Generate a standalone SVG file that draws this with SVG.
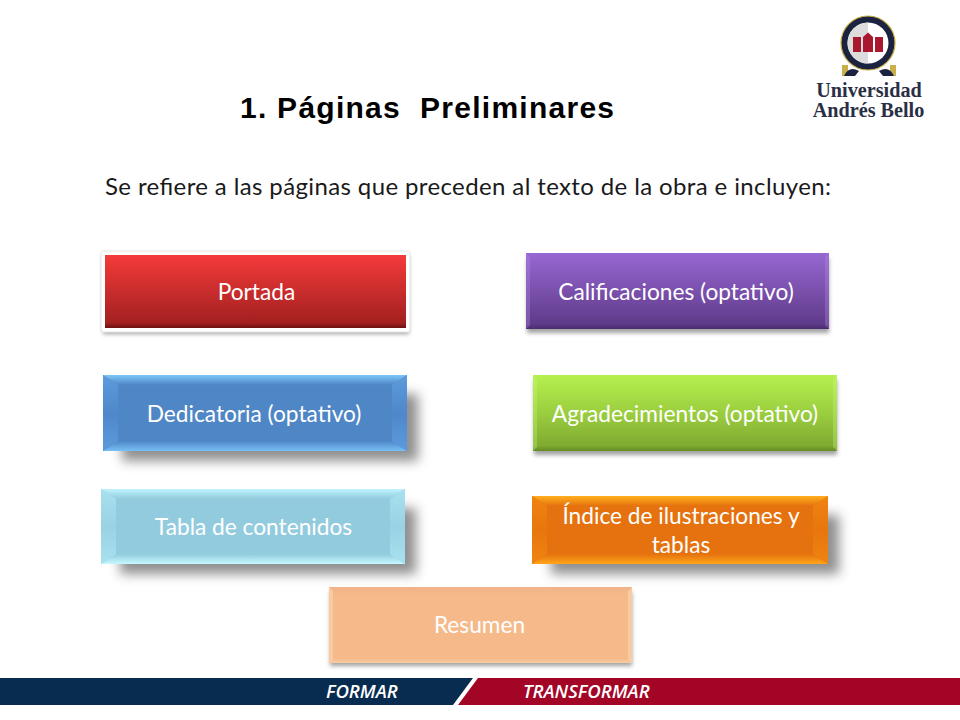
<svg xmlns="http://www.w3.org/2000/svg" width="960" height="720" viewBox="0 0 960 720">
<style>
.t{font-family:"Lato","Open Sans","Liberation Sans",sans-serif;font-size:22.700px;fill:#fff;text-anchor:middle}
.foot{font-family:"Open Sans","Liberation Sans",sans-serif;font-size:18.600px;font-weight:600;font-style:italic;fill:#fff}
.logo{font-family:"Liberation Serif","DejaVu Serif",serif;font-size:20.200px;font-weight:700;fill:#2a2f45;text-anchor:middle}
.sh{fill:#444;opacity:.6;filter:url(#blur)}
.shs{fill:#555;opacity:.55;filter:url(#blurS)}
</style>
<defs>
<filter id="blur" x="-15%" y="-40%" width="130%" height="180%"><feGaussianBlur stdDeviation="6"/></filter>
<filter id="blurS" x="-5%" y="-15%" width="110%" height="130%"><feGaussianBlur stdDeviation="2"/></filter>
<linearGradient id="red" x1="0" y1="0" x2="0" y2="1"><stop offset="0" stop-color="#f53a3a"/><stop offset=".5" stop-color="#c92c2c"/><stop offset=".93" stop-color="#a32020"/><stop offset="1" stop-color="#6d1010"/></linearGradient>
<linearGradient id="purple" x1="0" y1="0" x2="0" y2="1"><stop offset="0" stop-color="#9668d2"/><stop offset=".5" stop-color="#7a50ac"/><stop offset=".93" stop-color="#5f3b8b"/><stop offset="1" stop-color="#4a2d6e"/></linearGradient>
<linearGradient id="green" x1="0" y1="0" x2="0" y2="1"><stop offset="0" stop-color="#b5f04e"/><stop offset=".5" stop-color="#9bce3f"/><stop offset=".93" stop-color="#7fab31"/><stop offset="1" stop-color="#658a24"/></linearGradient>
<linearGradient id="blueT" x1="0" y1="0" x2="0" y2="1"><stop offset="0" stop-color="#7cc8fa"/><stop offset="1" stop-color="#4f86c6"/></linearGradient>
<linearGradient id="blueB" x1="0" y1="0" x2="0" y2="1"><stop offset="0" stop-color="#4f86c6"/><stop offset="1" stop-color="#77c0f6"/></linearGradient>
<linearGradient id="cyanT" x1="0" y1="0" x2="0" y2="1"><stop offset="0" stop-color="#bff4fd"/><stop offset="1" stop-color="#93cbde"/></linearGradient>
<linearGradient id="cyanB" x1="0" y1="0" x2="0" y2="1"><stop offset="0" stop-color="#93cbde"/><stop offset="1" stop-color="#c6f8ff"/></linearGradient>
<linearGradient id="orT" x1="0" y1="0" x2="0" y2="1"><stop offset="0" stop-color="#ffb01e"/><stop offset="1" stop-color="#e5720e"/></linearGradient>
<linearGradient id="orB" x1="0" y1="0" x2="0" y2="1"><stop offset="0" stop-color="#e5720e"/><stop offset="1" stop-color="#ffa51a"/></linearGradient>
<linearGradient id="peach" x1="0" y1="0" x2="0" y2="1"><stop offset="0" stop-color="#eeb387"/><stop offset=".1" stop-color="#f5b98a"/><stop offset=".94" stop-color="#f5b98a"/><stop offset="1" stop-color="#f9cda4"/></linearGradient>
<linearGradient id="sideBlue" x1="0" y1="0" x2="0" y2="1"><stop offset="0" stop-color="#5c9bdc"/><stop offset=".5" stop-color="#4f88ca"/><stop offset="1" stop-color="#5c9bdc"/></linearGradient>
<linearGradient id="sideCyan" x1="0" y1="0" x2="0" y2="1"><stop offset="0" stop-color="#a8e2f0"/><stop offset=".5" stop-color="#98d2e4"/><stop offset="1" stop-color="#a8e2f0"/></linearGradient>
<linearGradient id="sideOr" x1="0" y1="0" x2="0" y2="1"><stop offset="0" stop-color="#f08412"/><stop offset=".5" stop-color="#e8760e"/><stop offset="1" stop-color="#f08412"/></linearGradient>
</defs>
<rect width="960" height="720" fill="#fff"/>
<g id="logo">
<rect x="842" y="65" width="6" height="11" fill="#c9b04a"/><rect x="890" y="65" width="6" height="11" fill="#c9b04a"/>
<path d="M844 76q5-11 15-5l-4 5zM894 76q-5-11-15-5l4 5z" fill="#1b2340"/>
<circle cx="868" cy="43" r="27" fill="#1b2340" stroke="#c8ad45" stroke-width="1.200"/>
<circle cx="868" cy="43" r="20.500" fill="#fff"/>
<path d="M868 22.500a20.500 20.500 0 0 0 0 41z" fill="#dcdcdc"/>
<path d="M853 37h8v15h-8zM863 37l5-4.500 5 4.500v15h-10zM875 37h8v15h-8z" fill="#a9182f"/>
<text class="logo" x="869" y="97">Universidad</text>
<text class="logo" x="868.500" y="117">Andrés Bello</text>
</g>
<g id="title">
<text x="240" y="118" font-family="Liberation Sans, Arial, sans-serif" font-size="30" font-weight="700" fill="#000" textLength="374" lengthAdjust="spacing" xml:space="preserve">1. Páginas  Preliminares</text>
</g>
<g id="subtitle">
<text x="105" y="195" font-family="Lato, Open Sans, sans-serif" font-size="24" fill="#1a1a1a" textLength="726" lengthAdjust="spacing">Se refiere a las páginas que preceden al texto de la obra e incluyen:</text>
</g>
<g id="connectors"></g>
<g id="portada">
<rect class="shs" x="103" y="256" width="306" height="78"/>
<rect x="101" y="251" width="309" height="81" rx="2" fill="#fff" stroke="#e4e4e4"/>
<rect x="105" y="255" width="301" height="73" fill="url(#red)"/>
<text class="t" x="256.500" y="300">Portada</text>
</g>
<g id="calificaciones">
<rect class="shs" x="527" y="258" width="302" height="75"/>
<rect x="526" y="253" width="303" height="76" fill="url(#purple)"/>
<path d="M526 253l4 4v68l-4 4zM829 253l-4 4v68l4 4z" fill="#b08ae0" opacity=".35"/>
<text class="t" x="676" y="300">Calificaciones (optativo)</text>
</g>
<g id="dedicatoria">
<rect class="sh" x="122" y="394" width="296" height="67"/>
<rect x="103" y="375" width="304" height="76" fill="#4f86c6"/>
<path d="M103 375h304l-15 10H118z" fill="url(#blueT)"/>
<path d="M103 451h304l-15-10H118z" fill="url(#blueB)"/>
<path d="M103 375l15 10v56l-15 10z" fill="url(#sideBlue)"/>
<path d="M407 375l-15 10v56l15 10z" fill="url(#sideBlue)"/>
<text class="t" x="254" y="422">Dedicatoria (optativo)</text>
</g>
<g id="agradecimientos">
<rect class="shs" x="534" y="380" width="303" height="75"/>
<rect x="533" y="375" width="304" height="76" fill="url(#green)"/>
<path d="M533 375l4 4v68l-4 4zM837 375l-4 4v68l4 4z" fill="#c9f57a" opacity=".35"/>
<text class="t" x="685" y="422">Agradecimientos (optativo)</text>
</g>
<g id="tabla">
<rect class="sh" x="120" y="508" width="296" height="66"/>
<rect x="101" y="489" width="304" height="75" fill="#93cbde"/>
<path d="M101 489h304l-15 10H116z" fill="url(#cyanT)"/>
<path d="M101 564h304l-15-10H116z" fill="url(#cyanB)"/>
<path d="M101 489l15 10v55l-15 10z" fill="url(#sideCyan)"/>
<path d="M405 489l-15 10v55l15 10z" fill="url(#sideCyan)"/>
<text class="t" x="253.500" y="535">Tabla de contenidos</text>
</g>
<g id="indice">
<rect class="sh" x="551" y="515" width="288" height="59"/>
<rect x="532" y="496" width="296" height="68" fill="#e5720e"/>
<path d="M532 496h296l-15 10H547z" fill="url(#orT)"/>
<path d="M532 564h296l-15-10H547z" fill="url(#orB)"/>
<path d="M532 496l15 10v48l-15 10z" fill="url(#sideOr)"/>
<path d="M828 496l-15 10v48l15 10z" fill="url(#sideOr)"/>
<text class="t" x="681" y="524">Índice de ilustraciones y</text>
<text class="t" x="681" y="553">tablas</text>
</g>
<g id="resumen">
<rect class="shs" x="330" y="592" width="302" height="74"/>
<rect x="329" y="587" width="303" height="76" fill="url(#peach)"/>
<path d="M329 587l4 4v68l-4 4zM632 587l-4 4v68l4 4z" fill="#fbd3ae" opacity=".7"/>
<text class="t" x="479.500" y="633">Resumen</text>
</g>
<g id="footer">
<path d="M0 678H473L453 705H0z" fill="#082c4f"/>
<path d="M478 678H960V705H458z" fill="#a30526"/>
<text class="foot" x="326" y="698">FORMAR</text>
<text class="foot" x="523" y="698">TRANSFORMAR</text>
</g>
</svg>
